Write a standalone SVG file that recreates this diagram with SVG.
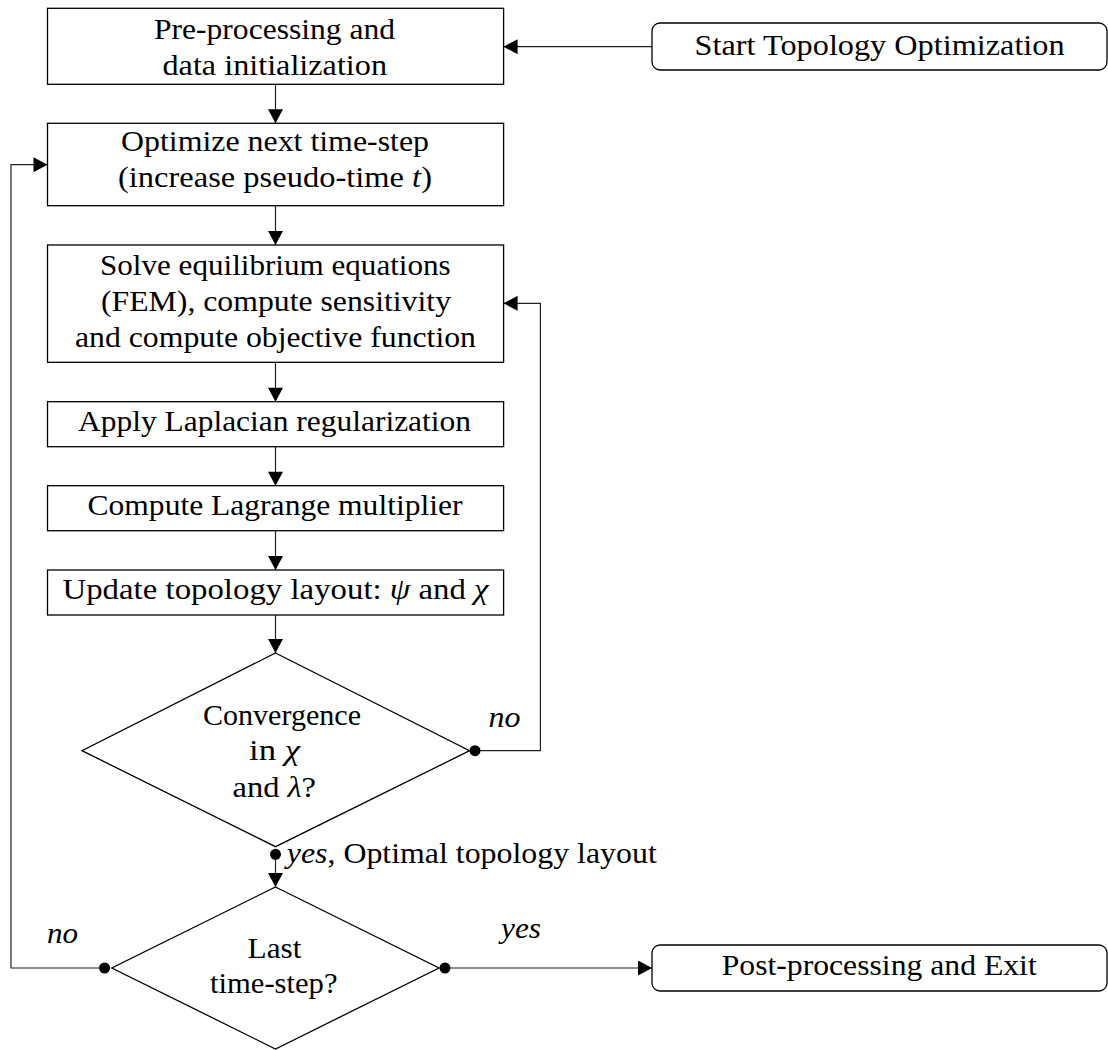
<svg xmlns="http://www.w3.org/2000/svg" width="1108" height="1050" viewBox="0 0 1108 1050">
  <style>
    .box { fill: #fff; stroke: #000; stroke-width: 1.3; }
    .conn { fill: none; stroke: #222; stroke-width: 1.2; }
    .dot { fill: #000; }
    text { font-family: "Liberation Serif", "Times New Roman", serif; font-size: 29px; fill: #000; }
    .it { font-style: italic; }
  </style>
  <defs>
    <marker id="arr" markerUnits="userSpaceOnUse" markerWidth="15" markerHeight="15" viewBox="0 0 14 15" refX="14" refY="7.5" orient="auto">
      <path d="M0,0 L14,7.5 L0,15 Z" fill="#000"/>
    </marker>
  </defs>

  <g id="connectors">
    <line class="conn" x1="652" y1="46.7" x2="503.6" y2="46.7" marker-end="url(#arr)"/>
    <line class="conn" x1="275.5" y1="84.3" x2="275.5" y2="123.3" marker-end="url(#arr)"/>
    <line class="conn" x1="275.5" y1="205.7" x2="275.5" y2="245" marker-end="url(#arr)"/>
    <line class="conn" x1="275.5" y1="362.3" x2="275.5" y2="401.7" marker-end="url(#arr)"/>
    <line class="conn" x1="275.5" y1="446.7" x2="275.5" y2="485.7" marker-end="url(#arr)"/>
    <line class="conn" x1="275.5" y1="530.7" x2="275.5" y2="570" marker-end="url(#arr)"/>
    <line class="conn" x1="275.5" y1="615" x2="275.5" y2="653" marker-end="url(#arr)"/>
    <polyline class="conn" points="475,750.7 540.4,750.7 540.4,303.3 503.6,303.3" marker-end="url(#arr)"/>
    <line class="conn" x1="275.5" y1="854.3" x2="275.5" y2="887" marker-end="url(#arr)"/>
    <polyline class="conn" points="104.6,968 11,968 11,164.7 47.5,164.7" marker-end="url(#arr)"/>
    <line class="conn" x1="445" y1="968" x2="652" y2="968" marker-end="url(#arr)"/>
    <circle class="dot" cx="475" cy="750.7" r="5.5"/>
    <circle class="dot" cx="275.5" cy="854.3" r="5.5"/>
    <circle class="dot" cx="104.6" cy="968" r="5.5"/>
    <circle class="dot" cx="445" cy="968" r="5.5"/>
    <text class="it" x="488.6" y="727" textLength="32" lengthAdjust="spacingAndGlyphs">no</text>
    <text x="286.8" y="863" textLength="370" lengthAdjust="spacingAndGlyphs"><tspan class="it">yes</tspan>, Optimal topology layout</text>
    <text class="it" x="47" y="943" textLength="31" lengthAdjust="spacingAndGlyphs">no</text>
    <text class="it" x="501" y="938" textLength="40" lengthAdjust="spacingAndGlyphs">yes</text>
  </g>

  <g id="start">
    <rect class="box" x="652" y="23" width="455" height="47" rx="8" ry="8"/>
    <text x="694.6" y="55" textLength="370" lengthAdjust="spacingAndGlyphs">Start Topology Optimization</text>
  </g>

  <g id="preprocess">
    <rect class="box" x="47.5" y="8.3" width="456.1" height="76"/>
    <text x="154" y="39.3" textLength="241" lengthAdjust="spacingAndGlyphs">Pre-processing and</text>
    <text x="162.5" y="75" textLength="224.5" lengthAdjust="spacingAndGlyphs">data initialization</text>
  </g>

  <g id="timestep">
    <rect class="box" x="47.5" y="123.3" width="456.1" height="82.4"/>
    <text x="121" y="150.5" textLength="308" lengthAdjust="spacingAndGlyphs">Optimize next time-step</text>
    <text x="118" y="186.5" textLength="314" lengthAdjust="spacingAndGlyphs">(increase pseudo-time <tspan class="it">t</tspan>)</text>
  </g>

  <g id="solve">
    <rect class="box" x="47.5" y="245" width="456.1" height="117.3"/>
    <text x="100" y="275" textLength="350.7" lengthAdjust="spacingAndGlyphs">Solve equilibrium equations</text>
    <text x="101" y="310.7" textLength="350" lengthAdjust="spacingAndGlyphs">(FEM), compute sensitivity</text>
    <text x="75" y="346.7" textLength="401" lengthAdjust="spacingAndGlyphs">and compute objective function</text>
  </g>

  <g id="laplacian">
    <rect class="box" x="47.5" y="401.7" width="456.1" height="45"/>
    <text x="78" y="430.7" textLength="393" lengthAdjust="spacingAndGlyphs">Apply Laplacian regularization</text>
  </g>

  <g id="lagrange">
    <rect class="box" x="47.5" y="485.7" width="456.1" height="45"/>
    <text x="87.5" y="515" textLength="375" lengthAdjust="spacingAndGlyphs">Compute Lagrange multiplier</text>
  </g>

  <g id="update">
    <rect class="box" x="47.5" y="570" width="456.1" height="45"/>
    <text x="62.5" y="599.3" textLength="426" lengthAdjust="spacingAndGlyphs">Update topology layout:  <tspan class="it">ψ</tspan> and <tspan class="it">χ</tspan></text>
  </g>

  <g id="convergence">
    <polygon class="box" points="275.5,653 469.6,750.7 275.5,846.7 82,750.7"/>
    <text x="203" y="725" textLength="158" lengthAdjust="spacingAndGlyphs">Convergence</text>
    <text x="249" y="760" textLength="51" lengthAdjust="spacingAndGlyphs">in <tspan class="it">χ</tspan></text>
    <text x="232.5" y="796.7" textLength="83.5" lengthAdjust="spacingAndGlyphs">and <tspan class="it">λ</tspan>?</text>
  </g>

  <g id="laststep">
    <polygon class="box" points="275.5,887 439,968 275.5,1049 111.8,968"/>
    <text x="247.5" y="958" textLength="54" lengthAdjust="spacingAndGlyphs">Last</text>
    <text x="210" y="993" textLength="127.5" lengthAdjust="spacingAndGlyphs">time-step?</text>
  </g>

  <g id="post">
    <rect class="box" x="652" y="945" width="455" height="46" rx="8" ry="8"/>
    <text x="721.7" y="975" textLength="315" lengthAdjust="spacingAndGlyphs">Post-processing and Exit</text>
  </g>
</svg>
